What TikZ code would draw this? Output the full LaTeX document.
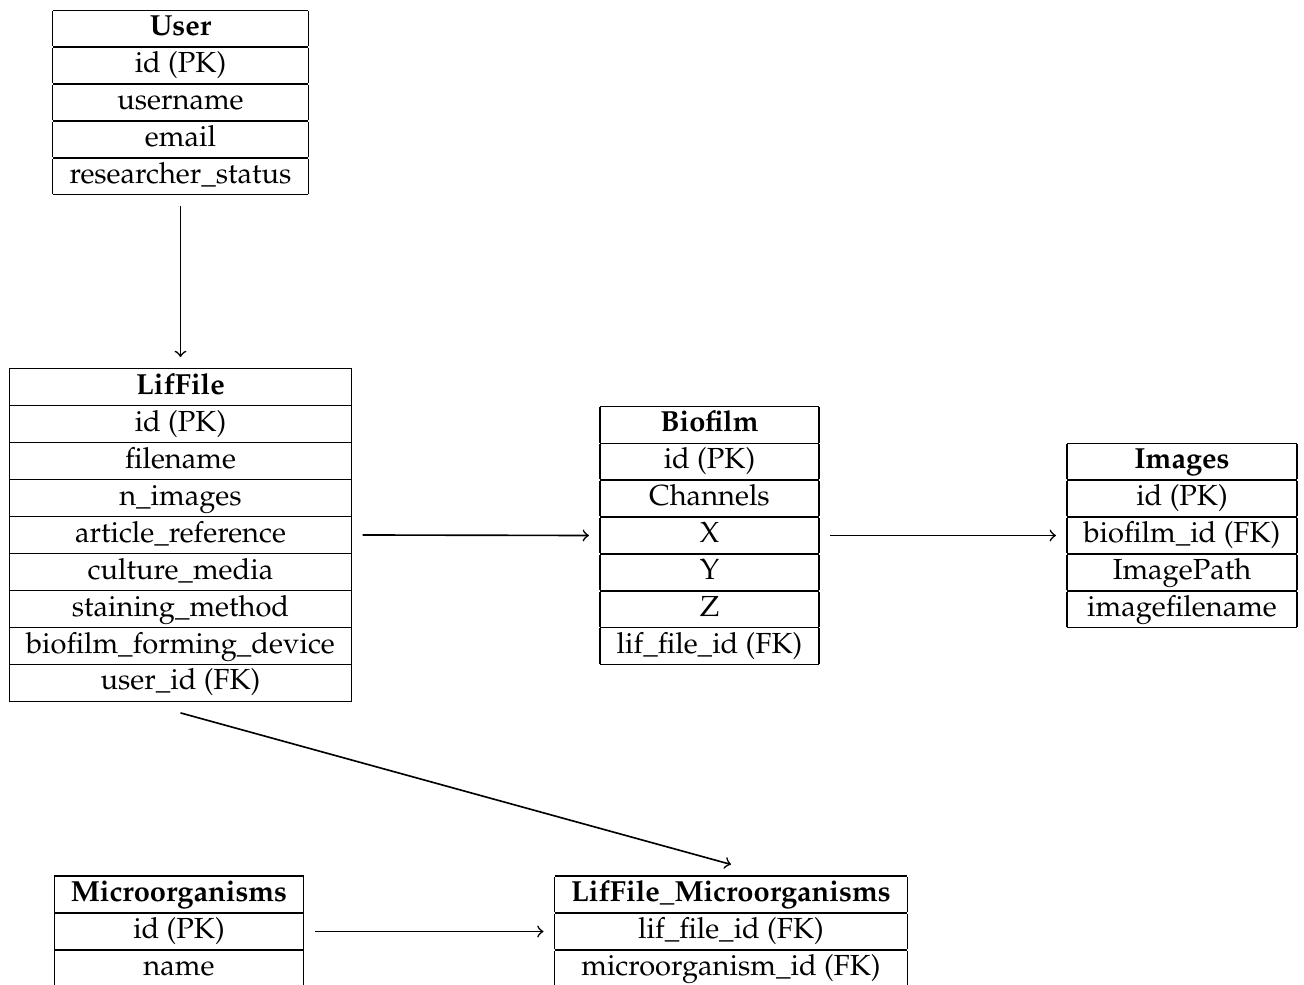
\documentclass[tikz,border=0pt]{standalone}
\usepackage[T1]{fontenc}
\usepackage{mathpazo}
\setlength{\tabcolsep}{5.6pt}
\tikzset{
  tbl/.style={inner sep=0pt, outer sep=3.7pt, font=\fontsize{9.75}{12}\selectfont},
  rel/.style={->, >=to, line width=0.55pt}
}
\begin{document}
\begin{tikzpicture}[x=0.33557pt, y=-0.33557pt]
\clip (0,0) rectangle (1304,985);
\fill[white] (0,0) rectangle (1304,985);
\node[tbl] (user) at (180.5,102.5) {\begin{tabular}{|c|}\hline \textbf{User}\\\hline id (PK)\\\hline username\\\hline email\\\hline researcher\_status\\\hline\end{tabular}};
\node[tbl] (lif) at (180.5,535) {\begin{tabular}{|c|}\hline \textbf{LifFile}\\\hline id (PK)\\\hline filename\\\hline n\_images\\\hline article\_reference\\\hline culture\_media\\\hline staining\_method\\\hline biofilm\_forming\_device\\\hline user\_id (FK)\\\hline\end{tabular}};
\node[tbl] (bio) at (709.5,535.5) {\begin{tabular}{|c|}\hline \textbf{Biofilm}\\\hline id (PK)\\\hline Channels\\\hline X\\\hline Y\\\hline Z\\\hline lif\_file\_id (FK)\\\hline\end{tabular}};
\node[tbl] (img) at (1182,535.5) {\begin{tabular}{|c|}\hline \textbf{Images}\\\hline id (PK)\\\hline biofilm\_id (FK)\\\hline ImagePath\\\hline imagefilename\\\hline\end{tabular}};
\node[tbl] (micro) at (179,931.5) {\begin{tabular}{|c|}\hline \textbf{Microorganisms}\\\hline id (PK)\\\hline name\\\hline\end{tabular}};
\node[tbl] (lfm) at (731,931.5) {\begin{tabular}{|c|}\hline \textbf{LifFile\_Microorganisms}\\\hline lif\_file\_id (FK)\\\hline microorganism\_id (FK)\\\hline\end{tabular}};
\draw[rel] (user.south) -- (lif.north);
\draw[rel] (lif.east) -- (bio.west);
\draw[rel] (bio.east) -- (img.west);
\draw[rel] (lif.south) -- (lfm.north);
\draw[rel] (micro.east) -- (lfm.west);
\end{tikzpicture}
\end{document}
